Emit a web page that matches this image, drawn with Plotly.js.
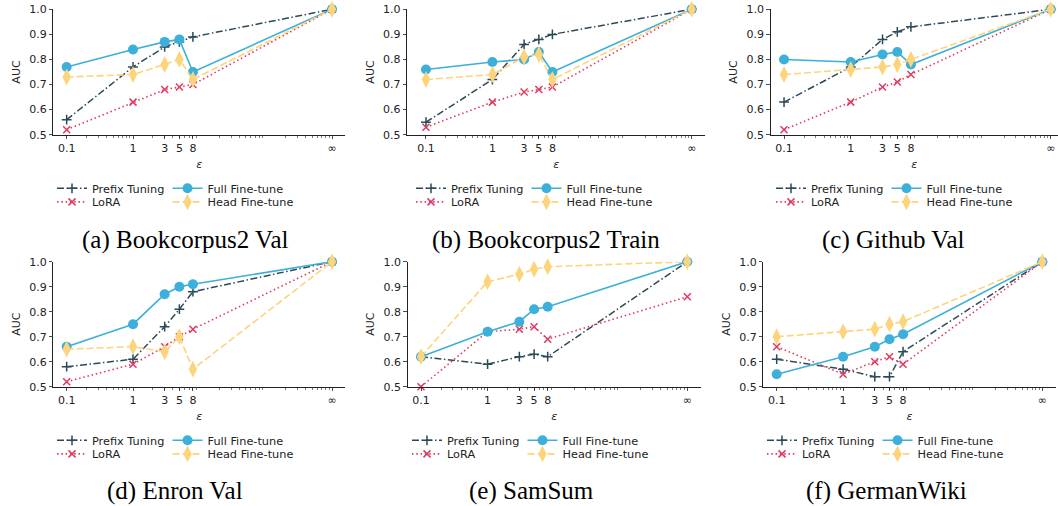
<!DOCTYPE html>
<html><head><meta charset="utf-8">
<script src="https://cdn.plot.ly/plotly-3.0.1.min.js"></script>
<style>html,body{margin:0;padding:0;background:#fff}#chart{width:1058px;height:506px}</style>
</head><body><div id="chart"></div><script>
// x positions: epsilon values; infinity drawn at 1000 on the log axis
const epsValues = [0.1, 1, 3, 5, 8, 1000];
const epsLabels = ['0.1', '1', '3', '5', '8', '∞'];
const methods = ['Prefix Tuning', 'LoRA', 'Full Fine-tune', 'Head Fine-tune'];
const panelCaptions = ['(a) Bookcorpus2 Val', '(b) Bookcorpus2 Train', '(c) Github Val',
                       '(d) Enron Val', '(e) SamSum', '(f) GermanWiki'];

// (a) Bookcorpus2 Val
const bookValPrefix = [0.56, 0.77, 0.85, 0.87, 0.89, 1.0];
const bookValLoRA   = [0.52, 0.63, 0.68, 0.69, 0.70, 1.0];
const bookValFull   = [0.77, 0.84, 0.87, 0.88, 0.75, 1.0];
const bookValHead   = [0.73, 0.74, 0.78, 0.80, 0.72, 1.0];
// (b) Bookcorpus2 Train
const bookTrainPrefix = [0.55, 0.72, 0.86, 0.88, 0.90, 1.0];
const bookTrainLoRA   = [0.53, 0.63, 0.67, 0.68, 0.69, 1.0];
const bookTrainFull   = [0.76, 0.79, 0.80, 0.83, 0.75, 1.0];
const bookTrainHead   = [0.72, 0.74, 0.81, 0.82, 0.72, 1.0];
// (c) Github Val
const githubPrefix = [0.63, 0.77, 0.88, 0.91, 0.93, 1.0];
const githubLoRA   = [0.52, 0.63, 0.69, 0.71, 0.74, 1.0];
const githubFull   = [0.80, 0.79, 0.82, 0.83, 0.78, 1.0];
const githubHead   = [0.74, 0.76, 0.77, 0.78, 0.80, 1.0];
// (d) Enron Val
const enronPrefix = [0.58, 0.61, 0.74, 0.81, 0.88, 1.0];
const enronLoRA   = [0.52, 0.59, 0.66, 0.70, 0.73, 1.0];
const enronFull   = [0.66, 0.75, 0.87, 0.90, 0.91, 1.0];
const enronHead   = [0.65, 0.66, 0.64, 0.70, 0.57, 1.0];
// (e) SamSum
const samsumPrefix = [0.62, 0.59, 0.62, 0.63, 0.62, 1.0];
const samsumLoRA   = [0.50, 0.72, 0.73, 0.74, 0.69, 0.86];
const samsumFull   = [0.62, 0.72, 0.76, 0.81, 0.82, 1.0];
const samsumHead   = [0.62, 0.92, 0.95, 0.97, 0.98, 1.0];
// (f) GermanWiki
const germanPrefix = [0.61, 0.57, 0.54, 0.54, 0.64, 1.0];
const germanLoRA   = [0.66, 0.55, 0.60, 0.62, 0.59, 1.0];
const germanFull   = [0.55, 0.62, 0.66, 0.69, 0.71, 1.0];
const germanHead   = [0.70, 0.72, 0.73, 0.75, 0.76, 1.0];

const panelSeries = [
  [bookValPrefix, bookValLoRA, bookValFull, bookValHead],
  [bookTrainPrefix, bookTrainLoRA, bookTrainFull, bookTrainHead],
  [githubPrefix, githubLoRA, githubFull, githubHead],
  [enronPrefix, enronLoRA, enronFull, enronHead],
  [samsumPrefix, samsumLoRA, samsumFull, samsumHead],
  [germanPrefix, germanLoRA, germanFull, germanHead]
];

// ---- styling ----
const W = 1058, H = 506;
const styles = [
  {color: '#2b4a57', dash: '7px,2.5px,1.5px,2.5px', symbol: 'cross-thin-open', size: 7, lw: 1.5},
  {color: '#de3b60', dash: '1.5px,2.8px', symbol: 'x-thin-open', size: 7, lw: 1.6},
  {color: '#3cafda', dash: 'solid', symbol: 'circle', size: 10, lw: 1.6},
  {color: '#fdd47c', dash: '7px,3px', symbol: 'diamond-tall', size: 12, lw: 1.6}
];
// panel geometry in px: [left, right, xRangeLo, xRangeHi, top, bottom]
const geom = [
  [53.4, 345.3, -1.2, 3.2, 9.3, 134.7],
  [407.3, 705.0, -1.281, 3.2, 9.3, 134.7],
  [770.7, 1058, -1.2, 3.109, 9.3, 134.7],
  [53.4, 345.3, -1.2, 3.2, 261.7, 386.7],
  [407.7, 700.6, -1.2, 3.2, 261.7, 386.7],
  [763.4, 1055.6, -1.2, 3.2, 261.7, 386.7]
];
// legend text start (px) for first column; second column is offset
const legendTextX = [86, 445, 805, 86, 441, 796];
const legendColGap = 115.5;
const captionPos = [[185, 240], [546, 240], [893, 240], [175, 491], [531, 491], [886, 491]];

const minorVals = [];
for (let e = -1; e <= 2; e++) for (let d = 2; d <= 9; d++) minorVals.push(d * Math.pow(10, e));

const tickFont = {family: 'DejaVu Sans', size: 11, color: '#222'};
const traces = [];
const layout = {
  width: W, height: H, margin: {l: 0, r: 0, t: 0, b: 0},
  paper_bgcolor: '#fff', plot_bgcolor: '#fff', showlegend: true,
  annotations: []
};

geom.forEach((g, p) => {
  const n = p + 1;
  const xk = 'xaxis' + (n === 1 ? '' : n), yk = 'yaxis' + (n === 1 ? '' : n);
  const xr = 'x' + (n === 1 ? '' : n), yr = 'y' + (n === 1 ? '' : n);
  layout[xk] = {
    type: 'log', range: [g[2], g[3]], domain: [g[0] / W, g[1] / W], anchor: yr,
    tickmode: 'array', tickvals: epsValues, ticktext: epsLabels,
    ticks: 'outside', ticklen: 3.5, tickwidth: 0.8, tickcolor: '#222',
    showline: true, linecolor: '#222', linewidth: 1, showgrid: false, zeroline: false,
    tickfont: tickFont,
    minor: {tickmode: 'array', tickvals: minorVals, ticks: 'outside', ticklen: 2, tickwidth: 0.6, tickcolor: '#222', showgrid: false},
    title: {text: '<i>ε</i>', font: {family: 'DejaVu Sans', size: 11, color: '#222'}, standoff: 5}
  };
  layout[yk] = {
    range: [0.5, 1.0], domain: [1 - g[5] / H, 1 - g[4] / H], anchor: xr,
    tickmode: 'array', tickvals: [0.5, 0.6, 0.7, 0.8, 0.9, 1.0], tickformat: '.1f',
    ticks: 'outside', ticklen: 3.5, tickwidth: 0.8, tickcolor: '#222',
    showline: true, linecolor: '#222', linewidth: 1, showgrid: false, zeroline: false,
    tickfont: tickFont,
    title: {text: 'AUC', font: {family: 'DejaVu Sans', size: 11, color: '#222'}, standoff: 6}
  };

  panelSeries[p].forEach((vals, m) => {
    const s = styles[m];
    const idx = p * 4 + m + 1;
    const legKey = 'legend' + (idx === 1 ? '' : idx);
    const col = (m === 0 || m === 1) ? 0 : 1;   // Prefix, LoRA | Full, Head
    const row = (m === 0 || m === 2) ? 0 : 1;
    layout[legKey] = {
      orientation: 'h', x: (legendTextX[p] + col * legendColGap - 34) / W,
      y: 1 - (g[5] + 53.6 + row * 13.6) / H, xanchor: 'left', yanchor: 'middle',
      bgcolor: 'rgba(0,0,0,0)', borderwidth: 0,
      font: {family: 'DejaVu Sans', size: 11.3, color: '#222'}, itemwidth: 30
    };
    traces.push({
      type: 'scatter', mode: 'lines+markers', x: epsValues, y: vals,
      xaxis: xr, yaxis: yr, name: methods[m], cliponaxis: false, legend: legKey,
      line: {color: s.color, width: s.lw, dash: s.dash},
      marker: {symbol: s.symbol, size: s.size, color: s.color, line: {color: s.color, width: (m < 2 ? 1.5 : 0)}}
    });
  });
  layout.annotations.push({
    xref: 'paper', yref: 'paper', x: captionPos[p][0] / W, y: 1 - captionPos[p][1] / H,
    xanchor: 'center', yanchor: 'middle', showarrow: false, text: panelCaptions[p],
    font: {family: 'Liberation Serif', size: 25, color: '#000'}
  });
});

Plotly.newPlot('chart', traces, layout, {staticPlot: true});
</script></body></html>
